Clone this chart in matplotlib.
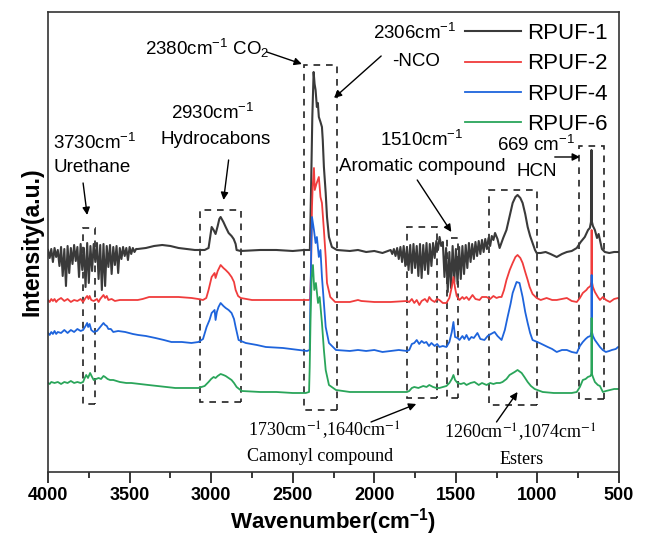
import matplotlib
matplotlib.use('Agg')
import numpy as np
from matplotlib import pyplot as plt
from matplotlib.patches import Rectangle

plt.rcParams['font.family'] = ['Liberation Sans', 'DejaVu Sans']
plt.rcParams['mathtext.fontset'] = 'custom'
plt.rcParams['mathtext.rm'] = 'Liberation Sans'
plt.rcParams['mathtext.it'] = 'Liberation Sans:italic'
plt.rcParams['mathtext.bf'] = 'Liberation Sans:bold'

# ---- spectra (stacked, a.u.) ----
wn_1 = [4000, 3990, 3980, 3970, 3960, 3950, 3940, 3930, 3920, 3910, 3900, 3890, 3880, 3870, 3860,
        3850, 3840, 3830, 3820, 3810, 3800, 3790, 3780, 3770, 3760, 3750, 3740, 3730, 3720, 3710,
        3700, 3690, 3680, 3670, 3660, 3650, 3640, 3630, 3620, 3610, 3600, 3590, 3580, 3570, 3560,
        3550, 3540, 3530, 3520, 3510, 3500, 3490, 3480, 3470, 3460, 3450,
        3400, 3350, 3300, 3250, 3200, 3150, 3100, 3040, 3016, 3005, 2997, 2985, 2973, 2960, 2950,
        2942, 2925, 2911, 2893, 2875, 2862, 2850, 2844, 2820, 2700, 2600, 2500, 2430, 2395, 2388,
        2380, 2372, 2366, 2360, 2352, 2346, 2340, 2330, 2321, 2316, 2309, 2298, 2290, 2278, 2260,
        2229, 2150, 2100, 2050, 2000, 1950,
        1900, 1890, 1880, 1870, 1860, 1850, 1840, 1830, 1820, 1810, 1800, 1790, 1780, 1770, 1760,
        1750, 1740, 1730, 1720, 1710, 1700, 1690, 1680, 1670, 1660, 1650, 1640, 1630, 1620, 1610,
        1600, 1590, 1580, 1570, 1560, 1550, 1540, 1530, 1520, 1510, 1500, 1490, 1480, 1470, 1460,
        1450, 1440, 1430, 1420, 1410, 1400, 1390, 1380, 1370, 1360, 1350, 1340, 1330, 1320, 1310,
        1300, 1290, 1280, 1270, 1260, 1245, 1232, 1210, 1190, 1170, 1152, 1135, 1122, 1105, 1091,
        1075, 1060, 1045, 1030, 1015, 1005, 980, 950, 920, 882, 850, 820, 790, 759, 735,
        710, 690, 679, 672, 669, 666, 660, 648, 635, 625, 617, 605, 587, 560, 530, 500]
rpuf_1 = [22.2, 21.4, 22.3, 21.0, 22.4, 21.5, 22.2, 20.6, 22.5, 19.6, 22.3, 18.6, 22.6, 19.9, 22.4,
          20.8, 22.7, 21.1, 22.5, 19.5, 22.8, 20.2, 22.4, 18.5, 22.9, 18.9, 22.6, 20.1, 22.8, 21.0,
          22.9, 19.3, 22.7, 18.2, 22.8, 18.6, 22.6, 20.5, 22.7, 19.8, 22.5, 20.7, 22.6, 19.9, 22.4,
          21.3, 22.5, 21.6, 22.4, 21.2, 22.5, 21.8, 22.4, 22.0, 22.3, 22.3,
          22.4, 22.6, 22.7, 22.6, 22.4, 22.3, 22.2, 22.2, 22.4, 23.6, 24.5, 24.2, 23.8, 24.6, 25.3,
          25.5, 25.0, 24.5, 23.9, 23.6, 23.3, 22.8, 22.2, 22.1, 22.2, 22.2, 22.1, 22.2, 22.2, 28.0,
          35.5, 40.0, 38.8, 38.2, 36.5, 36.9, 35.5, 35.0, 34.5, 33.2, 30.5, 27.9, 25.5, 23.5, 22.5,
          22.2, 22.1, 22.2, 22.0, 22.1, 21.9,
          22.2, 21.8, 22.3, 21.6, 22.4, 21.3, 22.5, 21.0, 22.6, 20.6, 22.5, 20.2, 22.7, 19.9, 22.8,
          20.4, 22.6, 19.6, 22.8, 19.4, 22.7, 20.2, 22.9, 19.8, 22.8, 20.6, 22.9, 21.4, 23.1, 22.2,
          23.5, 22.6, 23.0, 19.5, 22.4, 18.0, 22.0, 18.4, 22.6, 19.0, 22.3, 18.8, 22.5, 19.3, 22.6,
          19.8, 22.7, 20.4, 22.9, 21.0, 22.8, 21.3, 23.0, 21.6, 23.1, 21.8, 23.2, 22.0, 23.3, 22.3,
          23.4, 22.6, 23.6, 23.2, 23.9, 23.3, 22.4, 23.4, 24.2, 25.6, 26.9, 27.5, 27.7, 27.4, 26.9,
          25.8, 24.5, 23.6, 22.9, 22.2, 21.9, 21.9, 22.0, 21.8, 21.5, 21.8, 22.0, 22.1, 22.4, 23.0,
          23.5, 24.2, 24.4, 25.0, 32.2, 25.0, 24.6, 24.2, 23.4, 23.8, 23.2, 22.3, 22.0, 21.9, 22.0, 22.0]

wn_2 = [4000, 3990, 3980, 3970, 3960, 3950, 3940, 3920, 3900, 3880, 3860, 3840, 3820, 3800, 3785,
        3770, 3760, 3752, 3745, 3735, 3720, 3700, 3690, 3680, 3670, 3660, 3650, 3640, 3630, 3610,
        3590, 3560, 3500, 3450, 3420, 3380, 3300, 3200, 3120, 3080, 3050, 3030, 3016, 2997, 2979,
        2973, 2960, 2942, 2925, 2911, 2893, 2875, 2860, 2850, 2835, 2819, 2750, 2600, 2450, 2400,
        2394, 2388, 2382, 2378, 2370, 2365, 2355, 2340, 2330, 2321, 2309, 2298, 2290, 2270, 2240,
        2150, 2100, 2080, 2000, 1900, 1800, 1786, 1770, 1755, 1740, 1724, 1710, 1690, 1675, 1663,
        1650, 1630, 1615, 1601, 1580, 1558, 1540, 1525, 1515, 1505, 1495, 1478, 1460, 1450, 1435,
        1420, 1398, 1380, 1355, 1340, 1312, 1290, 1270, 1251, 1235, 1220, 1205, 1190, 1170, 1152,
        1135, 1122, 1105, 1091, 1075, 1060, 1048, 1030, 1005, 980, 944, 910, 882, 850, 820,
        790, 759, 740, 722, 700, 691, 675, 670, 668, 666, 660, 648, 630, 617, 599,
        580, 556, 530, 506, 500]
rpuf_2 = [17.2, 17.0, 17.3, 17.1, 17.3, 17.0, 17.2, 17.4, 17.1, 17.3, 17.0, 17.2, 17.1, 17.3, 17.0,
          17.4, 17.6, 17.3, 17.6, 17.2, 17.1, 17.3, 17.0, 17.3, 17.5, 17.7, 17.4, 17.6, 17.2, 17.3,
          17.1, 17.2, 17.2, 17.2, 17.3, 17.5, 17.5, 17.5, 17.4, 17.3, 17.2, 17.4, 18.2, 19.5, 19.9,
          19.4, 20.1, 20.7, 20.4, 20.2, 19.9, 19.5, 19.0, 18.2, 17.6, 17.4, 17.2, 17.2, 17.2, 17.2,
          17.3, 20.0, 26.5, 28.5, 30.4, 28.2, 28.8, 29.5, 27.5, 26.9, 24.2, 21.5, 18.9, 17.5, 17.0,
          17.0, 17.2, 17.1, 17.0, 17.0, 17.1, 17.0, 17.3, 16.9, 17.2, 16.7, 17.1, 17.3, 17.0, 17.5,
          17.2, 17.0, 17.3, 17.2, 16.9, 16.9, 17.4, 18.5, 19.5, 18.4, 17.6, 17.2, 17.5, 17.3, 17.5,
          17.2, 17.7, 17.3, 17.2, 17.5, 17.5, 17.3, 17.6, 17.4, 17.5, 17.5, 18.2, 19.2, 20.2, 20.9,
          21.5, 21.7, 21.4, 20.9, 20.0, 19.2, 18.5, 17.8, 17.4, 17.2, 17.4, 17.2, 17.2, 17.3, 17.4,
          17.1, 17.0, 17.4, 17.9, 18.2, 18.4, 18.6, 19.0, 24.2, 19.0, 18.5, 18.0, 17.5, 17.2, 17.5,
          17.2, 17.0, 17.3, 17.4, 17.3]

wn_4 = [4000, 3990, 3980, 3970, 3960, 3950, 3940, 3920, 3900, 3880, 3860, 3840, 3820, 3800, 3785,
        3770, 3760, 3754, 3745, 3735, 3720, 3700, 3690, 3675, 3660, 3650, 3640, 3630, 3615, 3600,
        3570, 3527, 3480, 3447, 3400, 3342, 3290, 3244, 3180, 3121, 3078, 3050, 3028, 3010, 2997,
        2979, 2973, 2965, 2955, 2942, 2925, 2911, 2893, 2875, 2860, 2850, 2832, 2788, 2720, 2665,
        2560, 2462, 2413, 2396, 2392, 2386, 2382, 2370, 2360, 2352, 2340, 2330, 2321, 2309, 2298,
        2278, 2235, 2150, 2100, 2050, 2000, 1950, 1900, 1850, 1800, 1786, 1770, 1755, 1740, 1725,
        1710, 1695, 1681, 1665, 1650, 1630, 1615, 1601, 1580, 1558, 1540, 1525, 1515, 1505, 1490,
        1478, 1460, 1448, 1435, 1420, 1405, 1390, 1368, 1350, 1325, 1305, 1285, 1263, 1245, 1220,
        1200, 1183, 1165, 1152, 1128, 1110, 1091, 1075, 1060, 1045, 1030, 987, 937, 910, 882,
        850, 820, 790, 759, 740, 722, 705, 691, 675, 670, 668, 666, 660, 648, 630,
        617, 600, 581, 560, 544, 520, 506, 500]
rpuf_4 = [13.9, 13.7, 14.0, 13.8, 14.1, 13.8, 14.0, 13.9, 14.2, 13.9, 14.2, 14.0, 14.3, 14.1, 14.2,
          14.6, 14.9, 14.5, 14.8, 14.2, 14.0, 14.1, 14.3, 14.6, 14.9, 14.7, 14.6, 14.3, 14.3, 14.0,
          14.1, 14.0, 13.8, 13.7, 13.6, 13.4, 13.2, 13.0, 13.0, 12.9, 13.0, 13.3, 14.5, 15.2, 15.9,
          16.2, 15.2, 16.0, 16.5, 16.9, 16.6, 16.4, 16.2, 15.9, 15.3, 14.5, 13.2, 12.9, 12.7, 12.5,
          12.4, 12.2, 12.1, 12.2, 17.0, 23.0, 25.5, 24.2, 22.9, 23.5, 21.5, 22.2, 19.5, 16.9, 14.5,
          12.9, 12.2, 12.1, 12.2, 12.1, 12.2, 12.0, 12.1, 12.2, 12.1, 12.2, 12.8, 12.9, 13.2, 12.8,
          13.1, 12.9, 13.0, 12.6, 12.9, 12.6, 12.8, 12.5, 12.6, 12.5, 13.0, 14.0, 15.0, 13.5, 13.4,
          13.2, 13.6, 13.3, 13.7, 13.2, 13.5, 13.4, 13.9, 13.3, 13.2, 13.6, 13.8, 14.0, 13.6, 13.2,
          14.2, 15.5, 16.8, 17.9, 19.0, 18.9, 17.5, 16.0, 14.9, 13.9, 13.2, 12.9, 12.5, 12.3, 12.0,
          12.2, 12.2, 12.0, 11.9, 12.6, 13.0, 13.3, 13.5, 13.6, 14.0, 19.7, 14.0, 13.6, 13.2, 12.8,
          12.5, 12.2, 12.0, 12.1, 12.2, 12.3, 12.5, 12.5]

wn_6 = [4000, 3990, 3980, 3960, 3940, 3920, 3900, 3880, 3860, 3840, 3820, 3800, 3785, 3775, 3766,
        3755, 3742, 3730, 3720, 3705, 3690, 3675, 3660, 3650, 3635, 3620, 3600, 3560, 3520, 3490,
        3440, 3385, 3330, 3281, 3220, 3158, 3078, 3040, 3016, 3000, 2985, 2973, 2960, 2942, 2925,
        2911, 2893, 2875, 2860, 2844, 2813, 2700, 2600, 2500, 2420, 2400, 2396, 2390, 2384, 2376,
        2368, 2358, 2345, 2335, 2321, 2309, 2298, 2278, 2235, 2150, 2000, 1900, 1800, 1786, 1770,
        1755, 1730, 1700, 1680, 1663, 1640, 1620, 1601, 1580, 1558, 1540, 1525, 1515, 1505, 1490,
        1470, 1450, 1435, 1410, 1386, 1360, 1340, 1312, 1290, 1270, 1251, 1230, 1214, 1190, 1171,
        1140, 1122, 1105, 1097, 1080, 1060, 1040, 1017, 968, 900, 820, 790, 759, 740, 722,
        705, 691, 675, 670, 668, 666, 660, 648, 630, 617, 599, 580, 556, 530, 506, 500]
rpuf_6 = [8.9, 8.8, 9.0, 8.9, 9.0, 8.8, 9.0, 8.9, 9.1, 8.9, 9.0, 8.9, 9.0, 9.4, 9.7,
          9.4, 9.9, 9.5, 9.2, 9.3, 9.4, 9.3, 9.6, 9.5, 9.3, 9.2, 9.2, 9.0, 8.9, 8.9,
          8.8, 8.7, 8.6, 8.5, 8.4, 8.4, 8.4, 8.6, 9.0, 9.3, 9.5, 9.4, 9.6, 9.8, 9.7,
          9.6, 9.4, 9.2, 8.9, 8.5, 8.1, 8.0, 8.0, 7.9, 7.9, 8.0, 10.5, 16.0, 19.5, 20.7,
          18.2, 18.9, 16.9, 17.5, 14.9, 12.2, 10.2, 8.7, 8.2, 8.0, 8.0, 8.0, 8.0, 8.1, 8.4,
          8.5, 8.4, 8.6, 8.5, 8.7, 8.5, 8.4, 8.4, 8.5, 8.6, 8.9, 9.3, 9.7, 9.2, 8.9,
          8.8, 8.9, 8.7, 8.9, 9.0, 8.7, 8.9, 8.7, 8.9, 8.8, 8.9, 8.9, 9.0, 9.3, 9.7,
          10.0, 10.2, 10.0, 9.9, 9.5, 9.0, 8.6, 8.3, 8.0, 7.9, 7.9, 7.9, 8.0, 8.5, 9.2,
          9.3, 9.5, 9.6, 9.8, 15.4, 9.8, 9.5, 9.0, 8.7, 8.6, 8.0, 8.1, 8.2, 8.3, 8.3, 8.3]

labels = ['RPUF-1', 'RPUF-2', 'RPUF-4', 'RPUF-6']
colors = ['#3a3a3a', '#f03c3c', '#1e64dc', '#2aa55a']
widths = [1.5, 1.3, 1.3, 1.3]

# dashed boxes around the bands (wavenumber range, intensity range)
box_hi = [3785, 3070, 2430, 1798, 1552, 1294, 747]
box_lo = [3711, 2820, 2230, 1614, 1485, 1005, 593]
box_bottom = [6.8, 7.0, 6.2, 7.4, 7.4, 6.7, 7.3]
box_top = [24.4, 26.2, 40.7, 24.5, 23.4, 28.2, 32.6]

fig = plt.figure(figsize=(6.48, 5.38), dpi=100)
ax = fig.add_axes([0.0741, 0.1227, 0.8812, 0.855])

for wn, y, lab, c, w in zip([wn_1, wn_2, wn_4, wn_6], [rpuf_1, rpuf_2, rpuf_4, rpuf_6], labels, colors, widths):
    ax.plot(wn, y, color=c, lw=w, label=lab)

for lo, hi, b, t in zip(box_lo, box_hi, box_bottom, box_top):
    ax.add_patch(Rectangle((lo, b), hi - lo, t - b, fill=False, ec='#222222',
                           lw=1.2, ls=(0, (4, 3.5))))

ax.set_xlim(4000, 500)
ax.set_ylim(0, 46)
ax.set_xticks([4000, 3500, 3000, 2500, 2000, 1500, 1000, 500])
ax.set_xticks(np.arange(750, 4000, 500), minor=True)
ax.set_yticks([])
ax.tick_params(axis='x', which='major', direction='out', length=8, width=1.1, labelsize=13, pad=3)
ax.tick_params(axis='x', which='minor', direction='out', length=4, width=1.1)
for lab in ax.get_xticklabels():
    lab.set_fontweight('bold')
for s in ax.spines.values():
    s.set_linewidth(1.2)
    s.set_color('#333333')

ax.set_xlabel(r'Wavenumber(cm$^{\mathbf{-1}}$)', fontsize=16, fontweight='bold', labelpad=1)
ax.set_ylabel('Intensity(a.u.)', fontsize=16.5, fontweight='bold', labelpad=3)

ax.legend(loc='upper right', frameon=False, fontsize=16, handlelength=2.5, handletextpad=0.3,
          labelspacing=0.42, borderaxespad=0.2, borderpad=0.3)

arrow = dict(arrowstyle='-|>', color='black', lw=1.0, mutation_scale=11, shrinkA=0, shrinkB=0)
fs = 13.5
ax.text(3403, 42.4, r'2380cm$^{-1}$ CO$_2$', fontsize=fs, ha='left', va='center')
ax.annotate('', xy=(2444, 40.8), xytext=(2659, 42.0), arrowprops=arrow)
ax.text(1750, 43.9, r'2306cm$^{-1}$', fontsize=fs, ha='center', va='center')
ax.text(1745, 41.0, '-NCO', fontsize=fs, ha='center', va='center')
ax.annotate('', xy=(2247, 37.4), xytext=(1958, 41.6), arrowprops=arrow)
ax.text(2991, 35.9, r'2930cm$^{-1}$', fontsize=fs, ha='center', va='center')
ax.text(2973, 33.2, 'Hydrocabons', fontsize=fs, ha='center', va='center')
ax.annotate('', xy=(2924, 27.2), xytext=(2893, 31.2), arrowprops=arrow)
ax.text(3969, 32.9, r'3730cm$^{-1}$', fontsize=fs, ha='left', va='center')
ax.text(3969, 30.4, 'Urethane', fontsize=fs, ha='left', va='center')
ax.annotate('', xy=(3760, 25.7), xytext=(3785, 28.9), arrowprops=arrow)
ax.text(1712, 33.2, r'1510cm$^{-1}$', fontsize=fs, ha='center', va='center')
ax.text(1706, 30.5, 'Aromatic compound', fontsize=fs, ha='center', va='center')
ax.annotate('', xy=(1528, 24.0), xytext=(1737, 29.2), arrowprops=arrow)
ax.text(1011, 32.7, r'669 cm$^{-1}$', fontsize=fs, ha='center', va='center')
ax.text(1005, 30.0, 'HCN', fontsize=fs, ha='center', va='center')
ax.annotate('', xy=(740, 31.5), xytext=(894, 31.5), arrowprops=arrow)

serif = dict(family='Liberation Serif', math_fontfamily='stix', fontsize=13, ha='center', va='center')
ax.text(2309, 4.2, r'1730cm$^{-1}$,1640cm$^{-1}$', **serif)
ax.text(2333, 1.5, 'Camonyl compound', **serif)
ax.annotate('', xy=(1743, 6.8), xytext=(2020, 5.0), arrowprops=arrow)
ax.text(1103, 4.0, r'1260cm$^{-1}$,1074cm$^{-1}$', **serif)
ax.text(1097, 1.2, 'Esters', **serif)
ax.annotate('', xy=(1122, 8.0), xytext=(1251, 5.0), arrowprops=arrow)

fig.savefig('out.png', dpi=100)
